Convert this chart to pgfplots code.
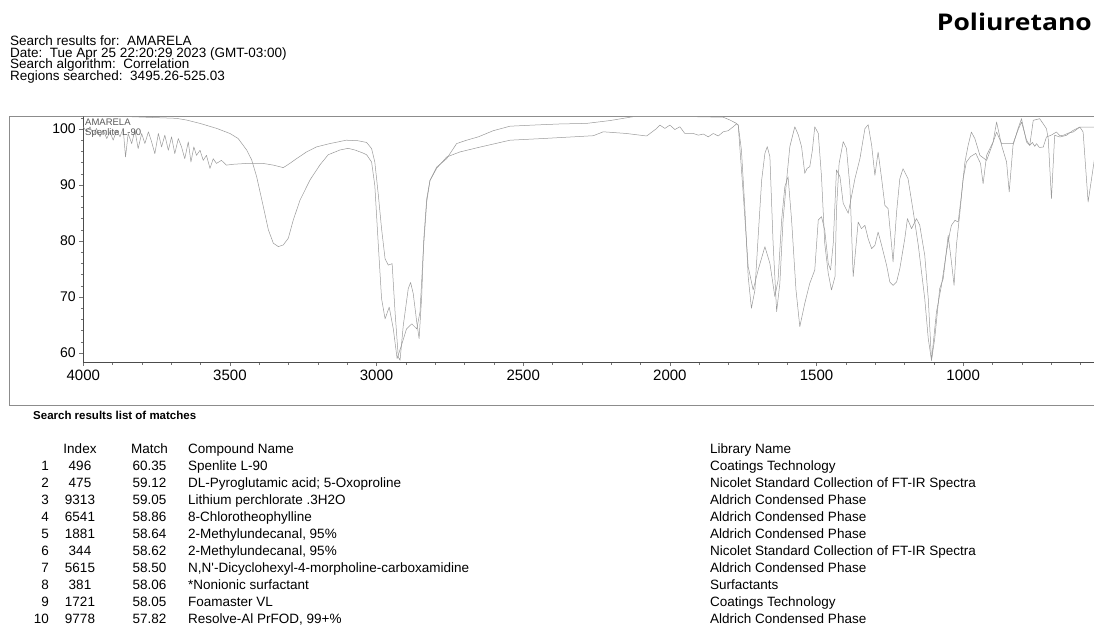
\documentclass[border=0pt]{standalone}
\usepackage{fontspec}
\setmainfont{Liberation Sans}
\newfontfamily\titlefont{Open Sans}[FakeStretch=1.15]
\usepackage{pgfplots}
\pgfplotsset{compat=1.18}

\newcommand{\trow}[6]{%
  \node[anchor=base east] at (49pt,-#1pt) {#2};
  \node[anchor=base] at (80pt,-#1pt) {#3};
  \node[anchor=base] at (149.5pt,-#1pt) {#4};
  \node[anchor=base west] at (188pt,-#1pt) {#5};
  \node[anchor=base west] at (710pt,-#1pt) {#6};}

\begin{document}
\begin{tikzpicture}
\useasboundingbox (0pt,0pt) rectangle (1094pt,-627pt);

% header
\begin{scope}[every node/.style={inner sep=0pt, anchor=base west, font=\fontsize{13.5}{13.5}\selectfont}]
\node at (10pt,-45.3pt) {Search results for:\ \ AMARELA};
\node at (10pt,-57.1pt) {Date:\ \ Tue Apr 25 22:20:29 2023 (GMT-03:00)};
\node at (10pt,-68.9pt) {Search algorithm:\ \ Correlation};
\node at (10pt,-80.7pt) {Regions searched:\ \ 3495.26-525.03};
\end{scope}
\node[inner sep=0pt, anchor=base east, font=\titlefont\bfseries\fontsize{23}{23}\selectfont] at (1092pt,-30pt) {Poliuretano};

% frame around the spectrum
\draw[black!45, line width=0.8pt] (9pt,-405pt) -- (9pt,-116pt) -- (1100pt,-116pt);
\draw[black!45, line width=0.8pt] (9pt,-405pt) -- (1100pt,-405pt);

\begin{axis}[
  at={(83.3pt,-362pt)}, anchor=south west,
  width=1010.7pt, height=246pt, scale only axis,
  x dir=reverse,
  xmin=554, xmax=4000,
  ymin=58.39, ymax=102.32,
  axis x line*=bottom, axis y line*=left,
  axis line style={-, draw=black!70, line width=0.6pt},
  xtick={1000,1500,...,4000}, minor xtick={600,700,...,3900},
  ytick={60,70,...,100}, minor ytick={60,62,...,102},
  xtick pos=bottom, ytick pos=left,
  tick align=outside,
  major tick length=4pt, minor tick length=2.5pt,
  every tick/.style={black!55, line width=0.5pt},
  xticklabel style={font=\fontsize{15}{15}\selectfont},
  yticklabel style={font=\fontsize{14}{14}\selectfont},
  /pgf/number format/assume math mode=true,
  /pgf/number format/set thousands separator={},
  spec/.style={black!40, line width=0.5pt, line join=round, mark=none},
]
% AMARELA (sample)
\addplot[spec] coordinates {
(4000,100.4) (3989,99.5) (3977,100.4) (3966,98.9) (3955,100.1) (3943,98.6) (3932,99.8) (3920,98.3)
(3909,99.5) (3898,98.0) (3886,99.8) (3875,98.6) (3864,100.1) (3856,95.0) (3847,99.2) (3835,97.4)
(3824,99.8) (3813,96.5) (3801,99.2) (3790,97.4) (3778,99.5) (3767,97.7) (3756,95.6) (3744,99.2)
(3733,96.8) (3722,98.9) (3710,96.2) (3699,98.6) (3688,95.6) (3676,98.3) (3665,96.8) (3654,94.7)
(3642,97.7) (3633,94.1) (3623,96.8) (3614,95.3) (3602,96.2) (3591,94.4) (3580,95.3) (3568,92.95)
(3557,94.7) (3546,93.85) (3529,94.4) (3512,93.55) (3489,93.7) (3443,93.85) (3387,93.85) (3352,93.55)
(3318,93.1) (3296,93.85) (3273,94.7) (3239,95.9) (3205,96.8) (3159,97.4) (3103,98.0) (3063,97.9)
(3034,97.6) (3017,96.5) (3006,94.1) (2994,88.2) (2983,82.2) (2971,76.8) (2960,75.7) (2947,75.95)
(2937,67.3) (2926,59.3) (2920,58.7) (2909,64.9) (2892,71.5) (2884,72.6) (2875,70.6) (2863,65.5)
(2855,62.55) (2846,70.3) (2839,80.4) (2829,87.55) (2818,90.8) (2795,93.0) (2761,95.0) (2716,95.9)
(2653,96.7) (2545,98.0) (2432,98.3) (2261,98.8) (2227,99.5) (2148,99.2) (2079,98.75) (2045,100.1)
(2034,100.7) (2017,100.1) (2000,100.7) (1983,99.9) (1966,100.4) (1949,99.2) (1920,99.2) (1903,98.9)
(1886,99.1) (1869,98.6) (1852,99.2) (1835,98.75) (1818,99.5) (1801,99.7) (1784,100.4) (1773,100.9)
(1767,100.71) (1750,88.51) (1733,75.42) (1716,71.25) (1699,74.82) (1676,78.99) (1659,76.01) (1642,70.06)
(1631,73.03) (1619,83.75) (1608,89.7) (1597,91.49) (1585,83.75) (1570,71.25) (1557,64.7) (1540,68.87)
(1523,72.44) (1506,74.82) (1494,83.75) (1483,84.34) (1472,81.96) (1460,76.01) (1452,74.82) (1443,79.58)
(1432,92.68) (1420,91.49) (1409,86.72) (1392,84.94) (1369,91.13) (1352,94.7) (1335,100.06) (1324,100.77)
(1312,97.08) (1301,91.72) (1290,95.89) (1278,91.13) (1267,86.37) (1256,85.77) (1244,79.23) (1239,76.25)
(1227,85.18) (1216,91.13) (1205,92.91) (1188,91.13) (1170,85.18) (1153,79.23) (1142,74.46) (1131,69.7)
(1119,62.56) (1108,58.69) (1091,67.32) (1074,72.08) (1057,78.03) (1045,81.6) (1040,82.8) (1028,83.69)
(1017,83.39) (1006,88.15) (994,94.1) (983,97.08) (972,99.46) (960,98.27) (943,95.3) (920,94.4)
(903,96.84) (886,99.46) (869,97.38) (830,97.38) (813,99.82) (801,101.25) (784,98.03) (773,97.08)
(764,97.6) (756,96.9) (750,97.38) (740,96.7) (727,96.78) (716,98.57) (700,98.9) (682,99.46)
(670,98.8) (659,98.87) (640,99.3) (625,99.46) (602,100.35) (553,100.35)
};
% Spenlite L-90 (library match)
\addplot[spec] coordinates {
(4000,102.2) (3841,102.2) (3682,101.9) (3648,101.6) (3602,101.0) (3545,100.1) (3500,99.2) (3472,98.3)
(3443,96.25) (3426,94.5) (3409,91.5) (3386,86.1) (3369,82.0) (3352,79.6) (3335,79.0) (3318,79.3)
(3301,80.5) (3284,83.75) (3261,87.3) (3227,90.9) (3193,93.6) (3165,95.4) (3125,96.25) (3097,96.55)
(3074,96.25) (3046,95.7) (3034,95.4) (3017,94.1) (3006,89.9) (2994,79.2) (2983,69.7) (2971,66.1)
(2957,68.2) (2943,64.3) (2930,59.0) (2915,61.4) (2898,64.3) (2880,65.2) (2863,64.3) (2852,67.3)
(2841,78.0) (2829,87.0) (2818,90.8) (2795,93.2) (2761,94.7) (2727,97.4) (2693,98.0) (2653,98.6)
(2602,99.7) (2545,100.5) (2466,100.7) (2375,100.9) (2284,101.0) (2205,101.5) (2125,102.2) (1920,102.2)
(1818,102.1) (1795,101.6) (1773,101.0)
(1767,100.71) (1756,96.25) (1744,85.53) (1733,73.63) (1722,67.98) (1710,71.25) (1699,80.77) (1687,90.89)
(1676,95.65) (1668,96.84) (1659,95.06) (1648,79.58) (1636,67.38) (1625,72.44) (1614,83.75) (1602,90.89)
(1591,96.84) (1574,100.4) (1562,98.93) (1551,96.84) (1540,92.08) (1532,92.97) (1523,93.27) (1514,96.25)
(1506,100.4) (1494,99.22) (1483,91.49) (1472,79.58) (1460,74.22) (1449,71.25) (1437,73.63) (1432,85.53)
(1423,93.87) (1409,97.74) (1398,96.55) (1386,89.7) (1375,73.63) (1358,83.39) (1347,82.2) (1335,82.8)
(1324,80.42) (1312,78.63) (1301,79.23) (1290,81.6) (1278,79.23) (1261,75.65) (1250,72.68) (1239,72.08)
(1227,72.68) (1216,75.06) (1199,80.42) (1190,83.99) (1176,82.2) (1159,83.99) (1148,82.8) (1131,77.44)
(1119,69.7) (1108,58.69) (1097,62.56) (1080,71.49) (1068,73.27) (1051,81.01) (1040,76.25) (1031,72.08)
(1023,79.23) (1011,85.18) (1000,91.13) (989,94.1) (975,95.06) (957,95.65) (941,93.87) (932,90.24)
(920,95.3) (898,97.68) (886,101.25) (869,97.08) (852,94.1) (843,88.75) (830,97.08) (813,100.06)
(801,101.84) (784,97.68) (773,97.08) (761,101.55) (739,101.84) (716,100.06) (710,98.27) (699,87.56)
(688,98.87) (670,98.57) (648,98.87) (625,99.76) (602,100.35) (591,99.46) (574,86.96) (553,94.4)
};
\end{axis}

\node[inner sep=0pt, anchor=north west, text=black!65, font=\fontsize{9.5}{9.5}\selectfont] at (85pt,-119pt) {AMARELA};
\node[inner sep=0pt, anchor=north west, text=black!65, font=\fontsize{9.5}{9.5}\selectfont] at (85pt,-128pt) {Spenlite L-90};

% list of matches
\node[inner sep=0pt, anchor=base west, font=\bfseries\fontsize{11.5}{11.5}\selectfont] at (33pt,-419pt) {Search results list of matches};
\begin{scope}[every node/.style={inner sep=0pt, font=\fontsize{13.5}{13.5}\selectfont}]
\node[anchor=base] at (80pt,-453pt) {Index};
\node[anchor=base] at (149.5pt,-453pt) {Match};
\node[anchor=base west] at (188pt,-453pt) {Compound Name};
\node[anchor=base west] at (710pt,-453pt) {Library Name};
\trow{470}{1}{496}{60.35}{Spenlite L-90}{Coatings Technology}
\trow{487}{2}{475}{59.12}{DL-Pyroglutamic acid; 5-Oxoproline}{Nicolet Standard Collection of FT-IR Spectra}
\trow{504}{3}{9313}{59.05}{Lithium perchlorate .3H2O}{Aldrich Condensed Phase}
\trow{521}{4}{6541}{58.86}{8-Chlorotheophylline}{Aldrich Condensed Phase}
\trow{538}{5}{1881}{58.64}{2-Methylundecanal, 95\%}{Aldrich Condensed Phase}
\trow{555}{6}{344}{58.62}{2-Methylundecanal, 95\%}{Nicolet Standard Collection of FT-IR Spectra}
\trow{572}{7}{5615}{58.50}{N,N\textquotesingle-Dicyclohexyl-4-morpholine-carboxamidine}{Aldrich Condensed Phase}
\trow{589}{8}{381}{58.06}{*Nonionic surfactant}{Surfactants}
\trow{606}{9}{1721}{58.05}{Foamaster VL}{Coatings Technology}
\trow{623}{10}{9778}{57.82}{Resolve-Al PrFOD, 99+\%}{Aldrich Condensed Phase}
\end{scope}
\end{tikzpicture}
\end{document}
